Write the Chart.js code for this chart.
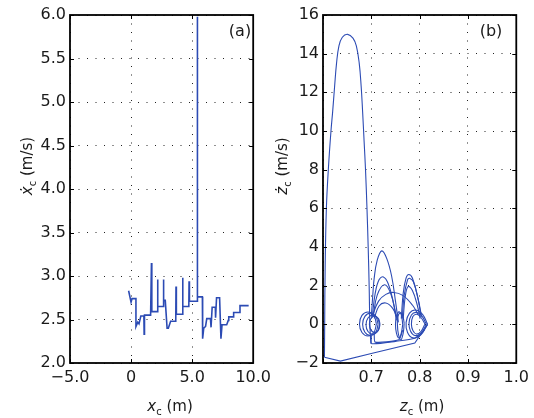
<!DOCTYPE html>
<html><head><meta charset="utf-8">
<script src="https://cdn.jsdelivr.net/npm/chart.js@4/dist/chart.umd.min.js"></script>
<style>
html,body{margin:0;padding:0;background:#fff;}
#wrap{position:relative;width:534px;height:418px;overflow:hidden;background:#fff;}
#ca{position:absolute;left:0;top:0;}
#cb{position:absolute;left:267px;top:0;}
</style></head><body>
<div id="wrap"><canvas id="ca" width="276" height="418"></canvas><canvas id="cb" width="267" height="418"></canvas></div>
<script>
// ---------- panel (a): x_c vs xdot_c ----------
const xTickLabelsA = ['\u22125.0', '0', '5.0', '10.0'];
const yTickLabelsA = ['2.0', '2.5', '3.0', '3.5', '4.0', '4.5', '5.0', '5.5', '6.0'];
const xA = [-0.2, 0.0, 0.08, 0.4, 0.4, 0.55, 0.65, 0.8, 1.05, 1.07, 1.1, 1.6, 1.67, 1.7, 2.15, 2.17, 2.2, 2.63, 2.65, 2.68, 2.8, 2.95, 3.05, 3.24, 3.66, 3.68, 3.71, 4.2, 4.22, 4.25, 4.73, 4.75, 4.78, 5.4, 5.42, 5.45, 5.84, 5.86, 5.95, 6.1, 6.2, 6.5, 6.55, 6.64, 6.9, 6.92, 7.0, 7.25, 7.36, 7.45, 7.83, 7.96, 8.0, 8.36, 8.4, 8.89, 8.92, 9.63];
const vA = [2.83, 2.70, 2.74, 2.74, 2.42, 2.47, 2.45, 2.54, 2.54, 2.33, 2.55, 2.55, 3.15, 2.59, 2.59, 2.96, 2.65, 2.65, 2.96, 2.72, 2.72, 2.40, 2.40, 2.48, 2.48, 2.88, 2.56, 2.56, 2.98, 2.65, 2.65, 2.94, 2.71, 2.71, 5.98, 2.76, 2.76, 2.28, 2.40, 2.42, 2.51, 2.51, 2.41, 2.64, 2.64, 2.52, 2.75, 2.75, 2.28, 2.44, 2.44, 2.49, 2.53, 2.53, 2.58, 2.58, 2.66, 2.66];

// ---------- panel (b): z_c vs zdot_c ----------
const xTickLabelsB = ['', '0.7', '0.8', '0.9', '1.0'];
const yTickLabelsB = ['\u22122', '0', '2', '4', '6', '8', '10', '12', '14', '16'];
const bottomZ = [0.8165, 0.79, 0.70, 0.636, 0.603];
const bottomV = [0.0, -0.97, -1.51, -1.90, -1.70];
const bigArcZ = [0.603, 0.6035, 0.6045, 0.607, 0.611, 0.6165, 0.620, 0.624, 0.628, 0.633, 0.640, 0.651, 0.662, 0.669, 0.675, 0.679, 0.682, 0.685, 0.688, 0.691, 0.6935, 0.6955, 0.697, 0.699];
const bigArcV = [-1.7, 0, 3, 6, 8, 10, 11, 12.3, 13.5, 14.4, 14.85, 15.0, 14.8, 14.4, 13.5, 12.3, 11, 9.5, 8, 6, 4, 2, 0, -1.0];
const ringL1Z = [0.7105, 0.7054, 0.693, 0.6806, 0.6755, 0.6806, 0.693, 0.7054, 0.7105];
const ringL1V = [0.02, 0.46, 0.64, 0.46, 0.02, -0.42, -0.60, -0.42, 0.02];
const ringL2Z = [0.714, 0.7093, 0.698, 0.6867, 0.682, 0.6867, 0.698, 0.7093, 0.714];
const ringL2V = [0.0, 0.41, 0.58, 0.41, 0.0, -0.41, -0.58, -0.41, 0.0];
const ringL3Z = [0.717, 0.7129, 0.703, 0.6931, 0.689, 0.6931, 0.703, 0.7129, 0.717];
const ringL3V = [-0.02, 0.33, 0.48, 0.33, -0.02, -0.37, -0.52, -0.37, -0.02];
const ringL4Z = [0.718, 0.7148, 0.707, 0.6992, 0.696, 0.6992, 0.707, 0.7148, 0.718];
const ringL4V = [0.0, 0.30, 0.42, 0.30, 0.0, -0.30, -0.42, -0.30, 0.0];
const ringR1Z = [0.8165, 0.806, 0.792, 0.779, 0.772, 0.775, 0.786, 0.802, 0.8165];
const ringR1V = [0.0, 0.52, 0.74, 0.58, 0.10, -0.42, -0.70, -0.56, 0.0];
const ringR2Z = [0.814, 0.804, 0.793, 0.783, 0.778, 0.781, 0.790, 0.803, 0.814];
const ringR2V = [0.0, 0.45, 0.62, 0.48, 0.05, -0.35, -0.58, -0.45, 0.0];
const ringR3Z = [0.811, 0.802, 0.794, 0.786, 0.783, 0.786, 0.793, 0.803, 0.811];
const ringR3V = [0.02, 0.38, 0.52, 0.40, 0.0, -0.32, -0.50, -0.36, 0.02];
const ringM1Z = [0.765, 0.762, 0.757, 0.752, 0.750, 0.752, 0.757, 0.762, 0.765];
const ringM1V = [0.0, 0.50, 0.65, 0.40, 0.0, -0.45, -0.70, -0.45, 0.0];
const ringM2Z = [0.768, 0.765, 0.760, 0.755, 0.754, 0.756, 0.761, 0.766, 0.768];
const ringM2V = [0.05, 0.45, 0.60, 0.40, 0.0, -0.50, -0.80, -0.45, 0.05];
const arcA1Z = [0.700, 0.703, 0.706, 0.712, 0.7216, 0.732, 0.742, 0.750, 0.756];
const arcA1V = [0.4, 1.5, 2.4, 3.3, 3.8, 3.4, 2.5, 1.2, 0.1];
const arcA2Z = [0.702, 0.708, 0.716, 0.725, 0.735, 0.745, 0.752];
const arcA2V = [0.4, 1.6, 2.3, 2.45, 2.1, 1.2, 0.2];
const arcA3Z = [0.704, 0.712, 0.727, 0.740, 0.752];
const arcA3V = [0.4, 1.5, 2.05, 1.6, 0.4];
const arcA4Z = [0.700, 0.715, 0.730, 0.746, 0.765, 0.785, 0.797];
const arcA4V = [0.3, 1.2, 1.55, 1.65, 1.5, 1.0, 0.5];
const arcA5Z = [0.706, 0.716, 0.730, 0.745, 0.755];
const arcA5V = [0.3, 0.95, 1.1, 0.8, 0.2];
const arcB1Z = [0.762, 0.766, 0.772, 0.7775, 0.785, 0.796, 0.803];
const arcB1V = [0.3, 1.6, 2.4, 2.58, 2.4, 1.4, 0.4];
const arcB2Z = [0.764, 0.768, 0.775, 0.779, 0.787, 0.797, 0.804];
const arcB2V = [0.3, 1.5, 2.3, 2.38, 2.2, 1.3, 0.4];
const arcB3Z = [0.766, 0.770, 0.776, 0.785, 0.795, 0.801];
const arcB3V = [0.3, 1.4, 1.95, 1.75, 1.0, 0.3];
const linkC1Z = [0.700, 0.701, 0.750, 0.790, 0.810];
const linkC1V = [-0.6, -1.0, -0.88, -0.72, -0.3];
const linkC2Z = [0.706, 0.708, 0.757, 0.765];
const linkC2V = [-0.5, -0.92, -0.80, -0.3];

const FONT = "'DejaVu Sans', 'Liberation Sans', Arial, sans-serif";
const LINE = '#2c4bb4';
const TXT = '#1a1a1a';

function pts(xs, ys) { return xs.map((x, i) => ({ x: x, y: ys[i] })); }

function drawRich(ctx, parts, x, y, rot) {
  ctx.save();
  ctx.translate(x, y);
  ctx.rotate(rot);
  ctx.fillStyle = TXT;
  ctx.textBaseline = 'alphabetic';
  ctx.textAlign = 'left';
  let w = 0;
  parts.forEach(p => { ctx.font = p.font; w += ctx.measureText(p.t).width; });
  let cx = -w / 2;
  parts.forEach(p => {
    ctx.font = p.font;
    ctx.fillText(p.t, cx, p.dy || 0);
    cx += ctx.measureText(p.t).width;
  });
  ctx.restore();
}

const frame = {
  id: 'frame',
  afterDraw(chart, args, o) {
    const { ctx, chartArea: a, scales } = chart;
    ctx.save();
    ctx.strokeStyle = '#000';
    ctx.lineWidth = 1;
    const L = 4;
    ctx.beginPath();
    scales.x.ticks.forEach(t => {
      const px = Math.round(scales.x.getPixelForValue(t.value)) + 0.5;
      ctx.moveTo(px, a.bottom); ctx.lineTo(px, a.bottom - L);
      ctx.moveTo(px, a.top); ctx.lineTo(px, a.top + L);
    });
    scales.y.ticks.forEach(t => {
      const py = Math.round(scales.y.getPixelForValue(t.value)) + 0.5;
      ctx.moveTo(a.left, py); ctx.lineTo(a.left + L, py);
      ctx.moveTo(a.right, py); ctx.lineTo(a.right - L, py);
    });
    ctx.stroke();
    ctx.lineWidth = 1.8;
    ctx.strokeRect(a.left, a.top, a.right - a.left, a.bottom - a.top);
    ctx.fillStyle = TXT;
    ctx.font = '16px ' + FONT;
    ctx.textAlign = 'center';
    ctx.textBaseline = 'middle';
    ctx.fillText(o.tag, o.tagX, o.tagY);
    ctx.restore();
    drawRich(ctx, o.xTitle, o.xTitleX, o.xTitleY, 0);
    drawRich(ctx, o.yTitle, o.yTitleX, o.yTitleY, -Math.PI / 2);
  }
};

function axes(xmin, xmax, xstep, xl, ymin, ymax, ystep, yl, yw) {
  const tickFont = { family: FONT, size: 16 };
  return {
    x: {
      type: 'linear', min: xmin, max: xmax,
      afterFit: s => { s.height = 55; },
      ticks: { stepSize: xstep, color: TXT, font: tickFont, padding: 5, maxRotation: 0, autoSkip: false,
               callback: (v, i) => xl[i] },
      grid: { color: '#222', lineWidth: 1, drawTicks: false, borderDash: [1, 7.5] },
      border: { display: false, dash: [1, 7.5] }
    },
    y: {
      type: 'linear', min: ymin, max: ymax,
      afterFit: s => { s.width = yw; },
      ticks: { stepSize: ystep, color: TXT, font: tickFont, padding: 4, autoSkip: false,
               callback: (v, i) => yl[i] },
      grid: { color: '#222', lineWidth: 1, drawTicks: false, borderDash: [1, 7.5] },
      border: { display: false, dash: [1, 7.5] }
    }
  };
}

const big = '15px ' + FONT, ital = 'italic 15px ' + FONT, sub = '10px ' + FONT;

new Chart(document.getElementById('ca'), {
  type: 'scatter',
  data: { datasets: [{ data: pts(xA, vA), showLine: true, borderColor: LINE, borderWidth: 1.6, pointRadius: 0, tension: 0 }] },
  options: {
    responsive: false, animation: false, events: [],
    layout: { padding: { left: 0, right: 17, top: 15, bottom: 0 } },
    plugins: {
      legend: { display: false }, tooltip: { enabled: false },
      frame: {
        tag: '(a)', tagX: 240, tagY: 32,
        xTitle: [{ t: 'x', font: ital }, { t: 'c', font: sub, dy: 4 }, { t: ' (m)', font: big }],
        xTitleX: 170, xTitleY: 411,
        yTitle: [{ t: '\u1E8B', font: ital }, { t: 'c', font: sub, dy: 4 }, { t: ' (m/s)', font: big }],
        yTitleX: 32, yTitleY: 166
      }
    },
    scales: axes(-5, 10, 5, xTickLabelsA, 2, 6, 0.5, yTickLabelsA, 70)
  },
  plugins: [frame]
});

const segsB = [
  [bottomZ, bottomV, 0], [bigArcZ, bigArcV, 0.4],
  [ringL1Z, ringL1V, 0.4], [ringL2Z, ringL2V, 0.4], [ringL3Z, ringL3V, 0.4], [ringL4Z, ringL4V, 0.4],
  [ringR1Z, ringR1V, 0.4], [ringR2Z, ringR2V, 0.4], [ringR3Z, ringR3V, 0.4],
  [ringM1Z, ringM1V, 0.4], [ringM2Z, ringM2V, 0.4],
  [arcA1Z, arcA1V, 0.4], [arcA2Z, arcA2V, 0.4], [arcA3Z, arcA3V, 0.4], [arcA4Z, arcA4V, 0.4], [arcA5Z, arcA5V, 0.4],
  [arcB1Z, arcB1V, 0.4], [arcB2Z, arcB2V, 0.4], [arcB3Z, arcB3V, 0.4],
  [linkC1Z, linkC1V, 0.2], [linkC2Z, linkC2V, 0.2]
];

new Chart(document.getElementById('cb'), {
  type: 'scatter',
  data: { datasets: segsB.map(s => ({ data: pts(s[0], s[1]), showLine: true, borderColor: LINE, borderWidth: 1.1, pointRadius: 0, tension: s[2] })) },
  options: {
    responsive: false, animation: false, events: [],
    layout: { padding: { left: 0, right: 17, top: 15, bottom: 0 } },
    plugins: {
      legend: { display: false }, tooltip: { enabled: false },
      frame: {
        tag: '(b)', tagX: 224, tagY: 32,
        xTitle: [{ t: 'z', font: ital }, { t: 'c', font: sub, dy: 4 }, { t: ' (m)', font: big }],
        xTitleX: 155, xTitleY: 411,
        yTitle: [{ t: '\u017C', font: ital }, { t: 'c', font: sub, dy: 4 }, { t: ' (m/s)', font: big }],
        yTitleX: 20, yTitleY: 166
      }
    },
    scales: axes(0.6, 1.0, 0.1, xTickLabelsB, -2, 16, 2, yTickLabelsB, 56)
  },
  plugins: [frame]
});
</script>
</body></html>
